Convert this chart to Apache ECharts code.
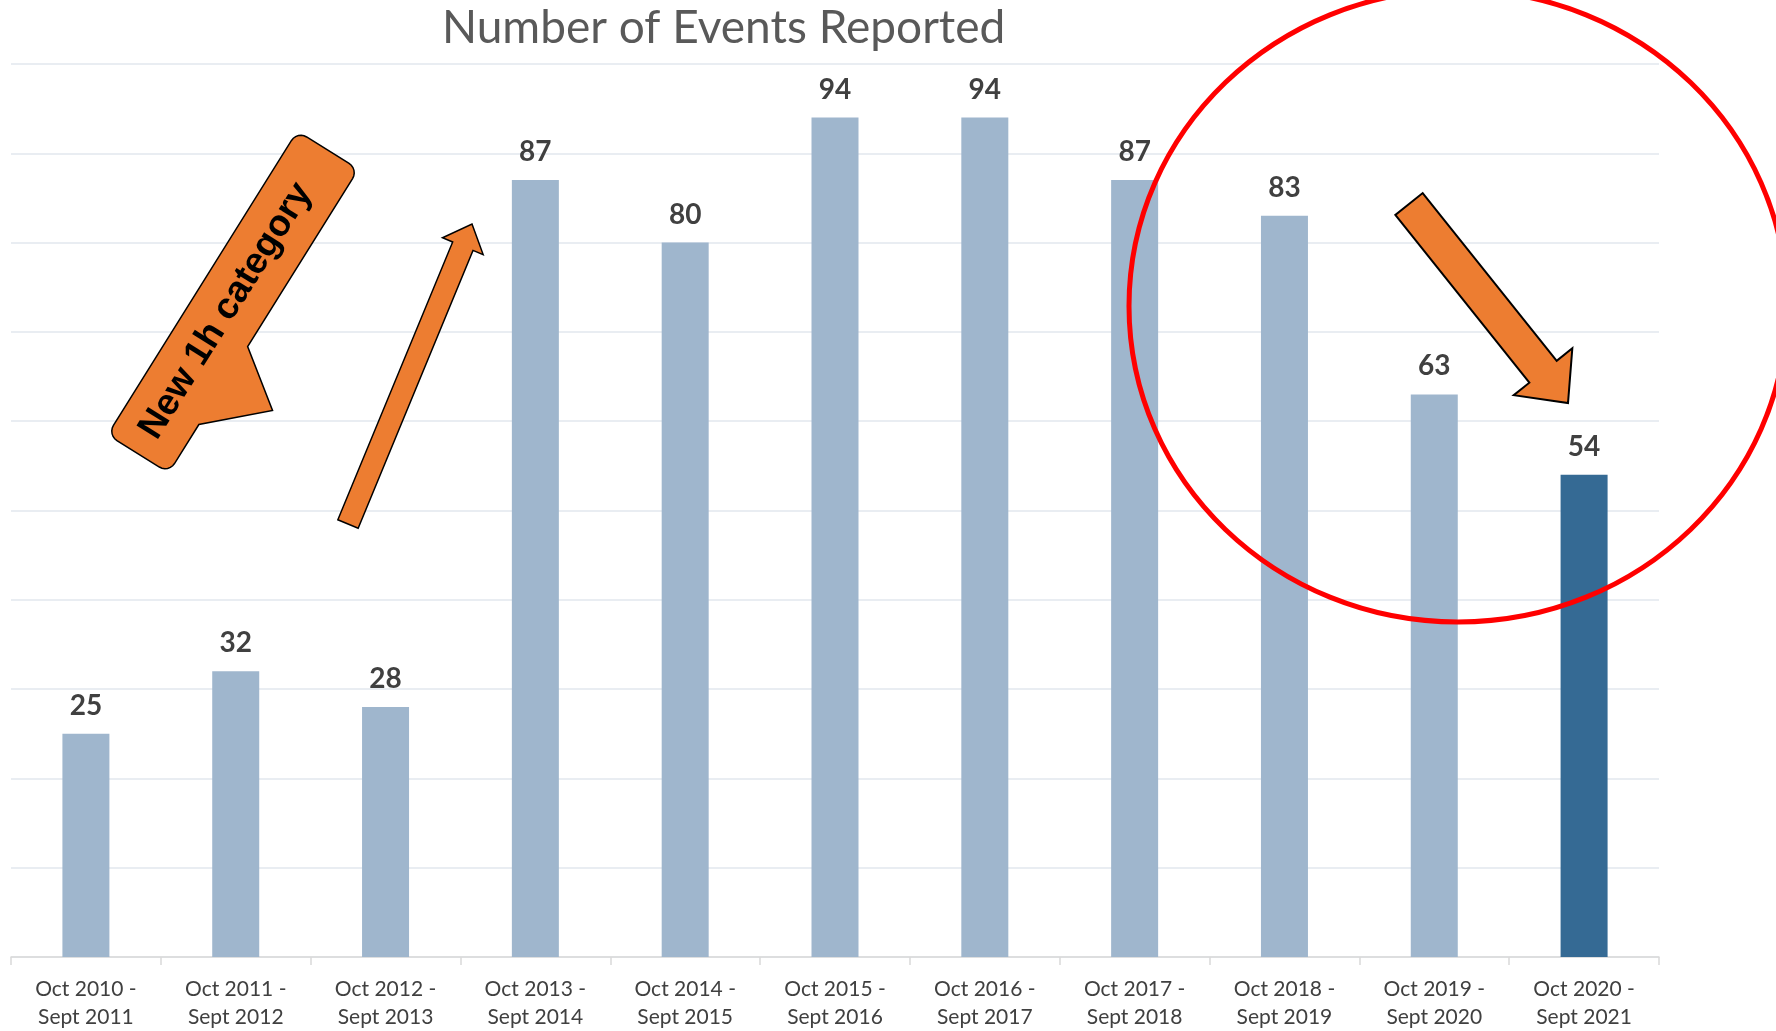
<!DOCTYPE html>
<html>
<head>
<meta charset="utf-8">
<title>Number of Events Reported</title>
<script src="https://cdn.jsdelivr.net/npm/echarts@6/dist/echarts.min.js"></script>
<style>
  html, body { margin: 0; padding: 0; background: #fff; }
  #chart { width: 1776px; height: 1031px; }
</style>
</head>
<body>
<div id="chart"></div>
<script>
// data
var periods = [
  "Oct 2010 -\nSept 2011", "Oct 2011 -\nSept 2012", "Oct 2012 -\nSept 2013",
  "Oct 2013 -\nSept 2014", "Oct 2014 -\nSept 2015", "Oct 2015 -\nSept 2016",
  "Oct 2016 -\nSept 2017", "Oct 2017 -\nSept 2018", "Oct 2018 -\nSept 2019",
  "Oct 2019 -\nSept 2020", "Oct 2020 -\nSept 2021"
];
var events = [25, 32, 28, 87, 80, 94, 94, 87, 83, 63, 54];
var highlightIndex = 10; // latest period drawn darker

var LIGHT = "#9fb6cd";
var DARK = "#356a94";
var ORANGE = "#ed7d31";

// arrow outline from tail centre to tip
function arrowPoints(tail, tip, shaftW, headW, headL) {
  var dx = tip[0] - tail[0], dy = tip[1] - tail[1];
  var len = Math.sqrt(dx * dx + dy * dy);
  var ux = dx / len, uy = dy / len;
  var px = -uy, py = ux;
  var bx = tip[0] - ux * headL, by = tip[1] - uy * headL;
  return [
    [tail[0] + px * shaftW / 2, tail[1] + py * shaftW / 2],
    [bx + px * shaftW / 2, by + py * shaftW / 2],
    [bx + px * headW / 2, by + py * headW / 2],
    tip,
    [bx - px * headW / 2, by - py * headW / 2],
    [bx - px * shaftW / 2, by - py * shaftW / 2],
    [tail[0] - px * shaftW / 2, tail[1] - py * shaftW / 2]
  ];
}

// rotated rounded box with a wedge on its lower side
function calloutPoints(cx, cy, angleDeg, hw, hh, r, wedge) {
  var local = [];
  function corner(x, y, a0) {
    for (var i = 0; i <= 6; i++) {
      var a = (a0 + i * 15) * Math.PI / 180;
      local.push([x + r * Math.cos(a), y + r * Math.sin(a)]);
    }
  }
  corner(hw - r, -hh + r, 270);
  corner(hw - r, hh - r, 0);
  wedge.forEach(function (p) { local.push(p); });
  corner(-hw + r, hh - r, 90);
  corner(-hw + r, -hh + r, 180);
  var t = angleDeg * Math.PI / 180;
  var ex = [Math.cos(t), -Math.sin(t)], ey = [Math.sin(t), Math.cos(t)];
  return local.map(function (p) {
    return [cx + p[0] * ex[0] + p[1] * ey[0], cy + p[0] * ex[1] + p[1] * ey[1]];
  });
}

var chart = echarts.init(document.getElementById("chart"));

chart.setOption({
  backgroundColor: "#fff",
  animation: false,
  title: {
    text: "Number of Events Reported",
    left: 437,
    top: 0,
    textStyle: {
      fontFamily: "Lato",
      fontSize: 46,
      fontWeight: "normal",
      color: "#595959"
    }
  },
  grid: {
    left: 11,
    right: 117,
    top: 64,
    bottom: 74
  },
  xAxis: {
    type: "category",
    data: periods,
    axisLine: { lineStyle: { color: "#d9d9d9", width: 1.5 } },
    axisTick: { show: true, length: 8, lineStyle: { color: "#d9d9d9", width: 1.5 } },
    axisLabel: {
      margin: 18,
      fontFamily: "Lato",
      fontSize: 21,
      lineHeight: 28,
      color: "#404040",
      interval: 0
    }
  },
  yAxis: {
    type: "value",
    min: 0,
    max: 100,
    interval: 10,
    axisLabel: { show: false },
    axisLine: { show: false },
    axisTick: { show: false },
    splitLine: { lineStyle: { color: "#e9edf2", width: 2 } }
  },
  series: [
    {
      type: "bar",
      barWidth: 47,
      data: events.map(function (v, i) {
        return {
          value: v,
          itemStyle: { color: i === highlightIndex ? DARK : LIGHT }
        };
      }),
      label: {
        show: true,
        position: "top",
        distance: 14,
        fontFamily: "Lato",
        fontSize: 28,
        fontWeight: "bold",
        color: "#404040"
      }
    }
  ],
  graphic: [
    {
      type: "polygon",
      z: 100,
      shape: {
        points: calloutPoints(233, 302, 58, 179, 36, 11, [[-30, 36], [-71, 91], [-122, 36]])
      },
      style: { fill: ORANGE, stroke: "#000", lineWidth: 1.5 }
    },
    {
      type: "text",
      z: 101,
      x: 226,
      y: 311,
      rotation: 58 * Math.PI / 180,
      style: {
        text: "New 1h category",
        fontFamily: "Liberation Sans",
        fontSize: 37,
        fontWeight: "bold",
        fill: "#000",
        align: "center",
        verticalAlign: "middle",
        textAlign: "center",
        textVerticalAlign: "middle"
      }
    },
    {
      type: "polygon",
      z: 100,
      shape: { points: arrowPoints([348, 524], [472, 224], 22, 44, 24) },
      style: { fill: ORANGE, stroke: "#000", lineWidth: 1.5 }
    },
    {
      type: "polygon",
      z: 100,
      shape: { points: arrowPoints([1409, 204], [1568, 403], 35, 75, 40) },
      style: { fill: ORANGE, stroke: "#000", lineWidth: 2 }
    },
    {
      type: "ellipse",
      z: 102,
      shape: { cx: 1458, cy: 306, rx: 329, ry: 316 },
      style: { fill: null, stroke: "#ff0000", lineWidth: 5 }
    }
  ]
});
</script>
</body>
</html>
